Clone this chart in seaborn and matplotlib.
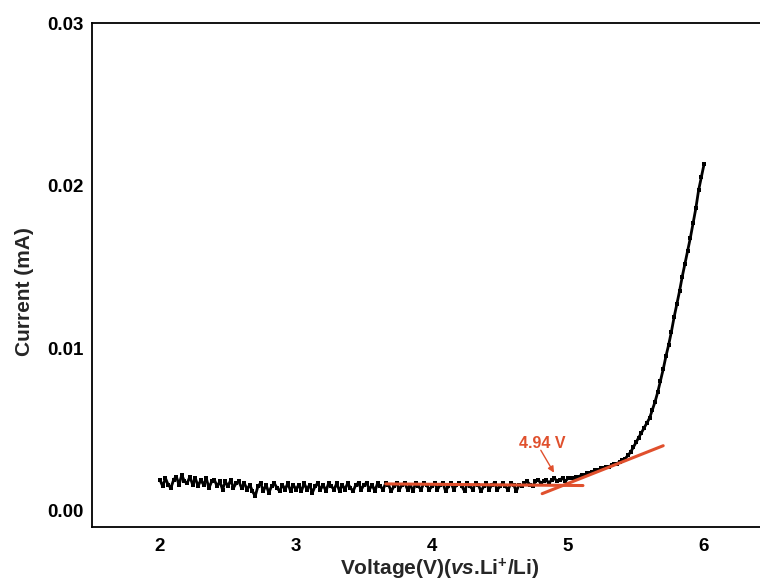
import numpy as np
import pandas as pd
import matplotlib
matplotlib.use("Agg")
import matplotlib.pyplot as plt
from matplotlib.ticker import MultipleLocator, FormatStrFormatter
import seaborn as sns

# ---- data (current in units of 1e-4 mA) ----
voltage = np.round(np.linspace(2.0, 6.0, 201), 2)
current_e4 = [
    19, 15, 20, 16, 14, 19, 21, 16, 22, 18, 17, 21, 16, 20, 15, 19,
    16, 20, 14, 18, 19, 15, 18, 13, 18, 15, 19, 14, 17, 18, 14,
    17, 13, 16, 12, 9, 15, 17, 12, 16, 11, 15, 17, 14, 12, 16, 13, 17, 12, 16, 13,
    16, 12, 17, 13, 16, 11, 15, 17, 13, 16, 12, 17, 15, 13, 17, 12, 16, 13, 17, 14, 12, 16, 17, 13, 16,
    17, 13, 16, 12, 17, 15, 13, 17, 16, 12, 15, 17, 13, 16, 17, 13, 16, 12, 17, 15, 13, 17, 16, 13, 15,
    17, 13, 16, 17, 12, 15, 17, 13, 16, 17, 15, 12, 17, 15, 13, 17, 16, 12, 15, 17, 13, 16, 17, 13, 15,
    17, 15, 13, 17, 16, 12, 16, 15, 17, 18, 16, 15, 18, 19, 17,
    18, 19, 17, 19, 20, 18, 19, 20, 18, 20,
    20, 20, 21, 21, 22, 22, 23, 23, 24, 25, 25, 26, 26, 27, 27, 28, 29, 29, 30, 31,
    32, 34, 36, 39, 42, 45, 48, 51, 54, 57, 62, 67, 73, 80, 87, 95, 102, 110, 119, 127,
    135, 144, 152, 160, 168, 177, 186, 197, 205, 213,
]
current = np.array(current_e4) * 1e-4

# tangent lines used for onset determination
fit1_x = [3.66, 5.11]
fit1_y = [0.00165, 0.00155]
fit2_x = [4.81, 5.70]
fit2_y = [0.00105, 0.00400]
onset_label = "4.94 V"
onset_point = (4.897, 0.00234)
arrow_start = (4.80, 0.00372)
label_pos = (4.81, 0.00388)

x_ticks = [2, 3, 4, 5, 6]
y_ticks = [0.00, 0.01, 0.02, 0.03]

df = pd.DataFrame({"Voltage": voltage, "Current": current})
fit1 = pd.DataFrame({"x": fit1_x, "y": fit1_y})
fit2 = pd.DataFrame({"x": fit2_x, "y": fit2_y})

sns.set_theme(style="white")
plt.rcParams["font.family"] = ["Liberation Sans", "DejaVu Sans"]
plt.rcParams["font.weight"] = "bold"
plt.rcParams["mathtext.fontset"] = "custom"
plt.rcParams["mathtext.rm"] = "Liberation Sans:bold"
plt.rcParams["mathtext.bf"] = "Liberation Sans:bold"
plt.rcParams["mathtext.it"] = "Liberation Sans:bold:italic"

RED = "#E0502D"

fig = plt.figure(figsize=(7.6, 5.81), dpi=100)
ax = fig.add_axes([92 / 760, (581 - 527) / 581, 680 / 760, 504 / 581])

sns.lineplot(data=df, x="Voltage", y="Current", ax=ax, color="black",
             linewidth=2.0, sort=False, estimator=None)
ax.scatter(df["Voltage"], df["Current"], s=7, color="black", marker="s", lw=0, zorder=3)
sns.lineplot(data=fit1, x="x", y="y", ax=ax, color=RED, linewidth=2.2, estimator=None, zorder=5)
sns.lineplot(data=fit2, x="x", y="y", ax=ax, color=RED, linewidth=2.2, estimator=None, zorder=5)

ax.annotate("", xy=onset_point, xytext=arrow_start,
            arrowprops=dict(arrowstyle="-|>", color=RED, lw=1.0, mutation_scale=9,
                            shrinkA=0, shrinkB=0), zorder=6)
ax.text(label_pos[0], label_pos[1], onset_label, ha="center", va="baseline",
        color=RED, fontsize=11.5, fontweight="bold", zorder=6)

ax.set_xlim(1.5, 6.5)
ax.set_ylim(-0.001, 0.03)
ax.set_xticks(x_ticks)
ax.set_yticks(y_ticks)
ax.xaxis.set_minor_locator(MultipleLocator(0.5))
ax.yaxis.set_minor_locator(MultipleLocator(0.005))
ax.yaxis.set_major_formatter(FormatStrFormatter("%.2f"))
ax.tick_params(which="major", direction="in", length=7, width=1.2,
               labelsize=13.5, pad=6, color="black", labelcolor="black")
ax.tick_params(axis="x", which="major", pad=8)
ax.tick_params(which="minor", direction="in", length=3.8, width=1.2, color="black")
ax.tick_params(top=False, right=False, which="both")
for lab in ax.get_xticklabels() + ax.get_yticklabels():
    lab.set_fontweight("bold")

for side in ["left", "bottom", "top"]:
    ax.spines[side].set_color("black")
    ax.spines[side].set_linewidth(1.3)
ax.spines["right"].set_visible(False)

ax.set_xlabel(r"Voltage(V)($\mathit{vs}$.Li$^{+}$/Li)", fontsize=15, fontweight="bold")
ax.set_ylabel("Current (mA)", fontsize=15, fontweight="bold")
ax.xaxis.set_label_coords((440 - 92) / 680, -(575 - 527) / 504)
ax.xaxis.label.set_va("baseline")
ax.yaxis.set_label_coords((34 - 92) / 680, (527 - 292) / 504)

fig.savefig("out.png", dpi=100)
